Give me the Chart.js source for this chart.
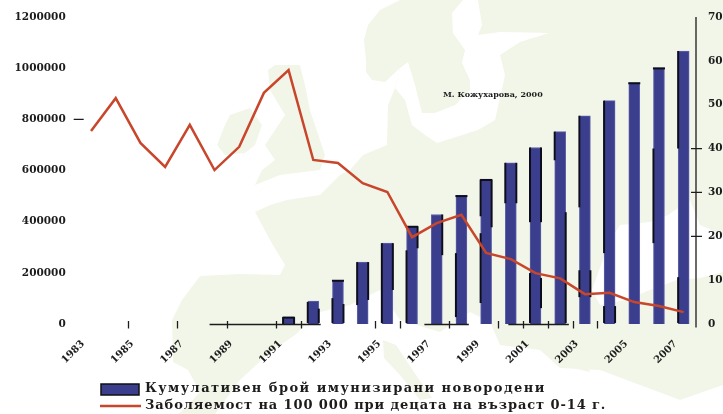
<!DOCTYPE html>
<html>
<head>
<meta charset="utf-8">
<script src="https://cdn.jsdelivr.net/npm/chart.js@4"></script>
<style>
  html, body { margin: 0; padding: 0; background: #fff; overflow: hidden; }
  #wrap { position: relative; width: 723px; height: 414px; }
  #map { position: absolute; left: 0; top: 0; filter: blur(0.5px); }
  #map .land { fill: #f2f6e8; }
  #map .sea { fill: #fff; }
  canvas { position: absolute; left: 0; top: 0; filter: blur(0.45px); }
</style>
</head>
<body>
<div id="wrap">
  <!-- faint map of Europe behind the chart -->
  <svg id="map" width="723" height="414">
    <polygon class="land" points="400,0 723,0 723,414 180,414 200,392 188,370 173,362 172,320 182,300 200,276 240,274 280,275 285,265 270,240 255,212 270,205 287,200 320,195 340,175 350,170 363,155 387,145 388,105 395,88 400,68 385,82 372,80 366,72 366,60 364,40 368,25 380,10"/>
    <polygon class="land" points="217,145 225,125 230,115 250,108 262,125 255,145 245,153 225,155"/>
    <polygon class="land" points="268,70 275,65 300,65 305,85 310,110 320,140 325,155 320,170 280,175 255,185 262,170 275,160 265,145 285,115 270,90"/>
    <polygon class="sea" points="400,68 408,62 415,85 422,113 435,113 455,105 470,90 470,80 462,63 465,50 453,33 452,13 463,0 478,0 482,25 478,35 500,32 549,33 520,42 500,55 505,75 495,120 478,130 437,143 425,135 412,125 405,100 395,88"/>
    <polygon class="sea" points="320,312 350,305 380,290 400,320 440,332 470,312 490,322 500,345 540,350 560,368 600,370 640,385 680,400 723,385 723,414 215,414 240,380 270,352 295,335"/>
    <polygon class="land" points="383,340 396,345 418,378 432,398 420,400 400,375 384,358"/>
    <polygon class="land" points="178,414 205,392 228,385 215,414"/>
    <polygon class="land" points="540,325 575,330 590,372 560,365 545,345"/>
    <polygon class="sea" points="592,290 610,240 620,225 650,222 668,215 690,200 700,225 723,235 723,272 700,278 677,280 650,290 625,300 600,305"/>
  </svg>
  <canvas id="chart" width="723" height="414"></canvas>
</div>
<script>
const years = ['1983','1984','1985','1986','1987','1988','1989','1990','1991','1992','1993','1994','1995','1996','1997','1998','1999','2000','2001','2002','2003','2004','2005','2006','2007'];
const immunized = [null,null,null,null,null,null,null,null,27000,90000,171000,242000,316000,382000,428000,502000,565000,630000,690000,752000,814000,873000,943000,1001000,1067000];
const incidence = [44,51.5,41.3,35.8,45.4,35.1,40.4,52.7,57.9,37.4,36.7,32.1,30.1,19.8,23,24.9,16.2,14.8,11.6,10.4,6.8,7.1,5,4.1,2.7];
const leftTicks = [0,200000,400000,600000,800000,1000000,1200000];
const rightTicks = [0,10,20,30,40,50,60,70];

const barLabel = 'Кумулативен брой имунизирани новородени';
const lineLabel = 'Заболяемост на 100 000 при децата на възраст 0-14 г.';
const signature = 'М. Кожухарова, 2000';

const barColor = '#3a3e8c';
const barEdge = '#5f63ab';
const lineColor = '#c8462c';
const inkColor = '#1c1c1c';
const fontName = '"DejaVu Serif"';

// only parts of the axes survive in the scan, positions are in category steps
const axisRuns = [[5.3,9.8],[14,15.8],[17.4,19.85]];
const axisTicks = [2,4,6,8,9,12,13,15,17,18,19,20,21];
const leftMarks = [800000];
const rightMarks = [20,30,40];

// black streaks on the bar sides: [year index, side, from, to], in thousands
const streaks = [
  [8,-1,0,27],[8,1,0,27],[9,-1,4,86],[9,1,4,60],[10,-1,4,101],[10,1,4,78],
  [11,-1,74,242],[11,1,94,242],[12,-1,4,316],[12,1,133,316],[13,-1,4,288],[13,1,296,382],
  [14,1,269,428],[15,-1,27,277],[16,-1,82,355],[16,-1,421,565],[16,1,378,565],
  [17,-1,472,630],[17,1,472,630],[18,-1,398,690],[18,1,398,690],[18,-1,4,199],[18,1,62,180],
  [19,-1,640,752],[19,1,4,437],[20,-1,456,814],[20,-1,105,210],[20,1,105,210],
  [21,-1,277,873],[21,-1,4,70],[21,1,4,70],[23,-1,316,686],[24,-1,4,183],[24,-1,686,1067]
];
const capped = [8,10,13,15,16,22,23];

const leftoverAxes = {
  id: 'leftoverAxes',
  afterDatasetDraw(chart, args) {
    if (args.meta.type !== 'bar') return;
    const c = chart.ctx, y = chart.scales.y, bars = args.meta.data;
    c.save();
    c.fillStyle = '#0d0d1c';
    streaks.forEach(s => {
      const px = bars[s[0]].x + (s[1] < 0 ? -6.5 : 4.5);
      const top = y.getPixelForValue(s[3] * 1000);
      c.fillRect(px, top, 2, y.getPixelForValue(s[2] * 1000) - top);
    });
    capped.forEach(i => {
      c.fillRect(bars[i].x - 6, bars[i].y - 0.5, 12, 2);
    });
    c.restore();
  },
  afterDraw(chart) {
    const c = chart.ctx, x = chart.scales.x, yl = chart.scales.y, yr = chart.scales.y2;
    const base = yl.getPixelForValue(0) + 0.5;
    c.save();
    c.strokeStyle = inkColor;
    c.lineWidth = 1.3;
    c.beginPath();
    axisRuns.forEach(r => {
      c.moveTo(x.getPixelForValue(r[0] - 0.5), base);
      c.lineTo(x.getPixelForValue(r[1] - 0.5), base);
    });
    axisTicks.forEach(k => {
      const px = Math.round(x.getPixelForValue(k - 0.5)) + 0.5;
      c.moveTo(px, base - 3.5);
      c.lineTo(px, base + 4);
    });
    leftMarks.forEach(v => {
      const py = yl.getPixelForValue(v);
      c.moveTo(chart.chartArea.left - 5, py);
      c.lineTo(chart.chartArea.left + 5, py);
    });
    // right axis
    const ax = chart.chartArea.right;
    c.moveTo(ax, yr.getPixelForValue(70));
    c.lineTo(ax, base + 3);
    rightMarks.forEach(v => {
      const py = yr.getPixelForValue(v);
      c.moveTo(ax - 5, py);
      c.lineTo(ax + 6, py);
    });
    c.stroke();

    // signature on the map
    c.fillStyle = inkColor;
    c.font = 'bold 8px ' + fontName;
    c.textBaseline = 'middle';
    c.fillText(signature, 443, 95);

    // legend
    const sets = chart.data.datasets;
    c.fillStyle = sets[0].backgroundColor;
    c.fillRect(101, 384, 38, 11);
    c.strokeStyle = '#111';
    c.lineWidth = 1.5;
    c.strokeRect(101, 384, 38, 11);
    c.strokeStyle = sets[1].borderColor;
    c.lineWidth = 2.5;
    c.beginPath();
    c.moveTo(100, 406);
    c.lineTo(141, 406);
    c.stroke();
    c.fillStyle = inkColor;
    c.font = 'bold 13px ' + fontName;
    c.letterSpacing = '1.45px';
    c.fillText(sets[0].label, 145, 389);
    c.letterSpacing = '0.9px';
    c.fillText(sets[1].label, 145, 406);
    c.restore();
  }
};

new Chart(document.getElementById('chart'), {
  type: 'bar',
  data: {
    labels: years,
    datasets: [
      { type: 'bar', label: barLabel, data: immunized, yAxisID: 'y', backgroundColor: barColor, borderColor: barEdge, borderWidth: 1, barThickness: 11, order: 2 },
      { type: 'line', label: lineLabel, data: incidence, yAxisID: 'y2', borderColor: lineColor, backgroundColor: lineColor, borderWidth: 2.5, pointRadius: 0, tension: 0, order: 1 }
    ]
  },
  options: {
    responsive: false,
    animation: false,
    layout: { padding: { top: 17, left: 0, right: 0, bottom: 0 } },
    plugins: { legend: { display: false }, tooltip: { enabled: false } },
    scales: {
      x: {
        grid: { display: false },
        border: { display: false },
        afterFit(s) { s.height = 90; },
        ticks: {
          autoSkip: false,
          maxRotation: 45,
          minRotation: 45,
          padding: 6,
          labelOffset: -8,
          color: inkColor,
          font: { family: 'DejaVu Serif', size: 10, weight: 'bold' },
          callback(v, i) { return i % 2 === 0 ? years[i] : ''; }
        }
      },
      y: {
        position: 'left',
        min: 0,
        max: 1200000,
        grid: { display: false },
        border: { display: false },
        afterFit(s) { s.width = 78.7; },
        afterBuildTicks(s) { s.ticks = leftTicks.map(v => ({ value: v })); },
        ticks: {
          padding: 5,
          color: inkColor,
          font: { family: 'DejaVu Serif', size: 10.5, weight: 'bold' },
          callback: v => String(v)
        }
      },
      y2: {
        position: 'right',
        min: 0,
        max: 70,
        grid: { display: false },
        border: { display: false },
        afterFit(s) { s.width = 27; },
        afterBuildTicks(s) { s.ticks = rightTicks.map(v => ({ value: v })); },
        ticks: {
          padding: 4,
          color: inkColor,
          font: { family: 'DejaVu Serif', size: 10.5, weight: 'bold' }
        }
      }
    }
  },
  plugins: [leftoverAxes]
});
</script>
</body>
</html>
